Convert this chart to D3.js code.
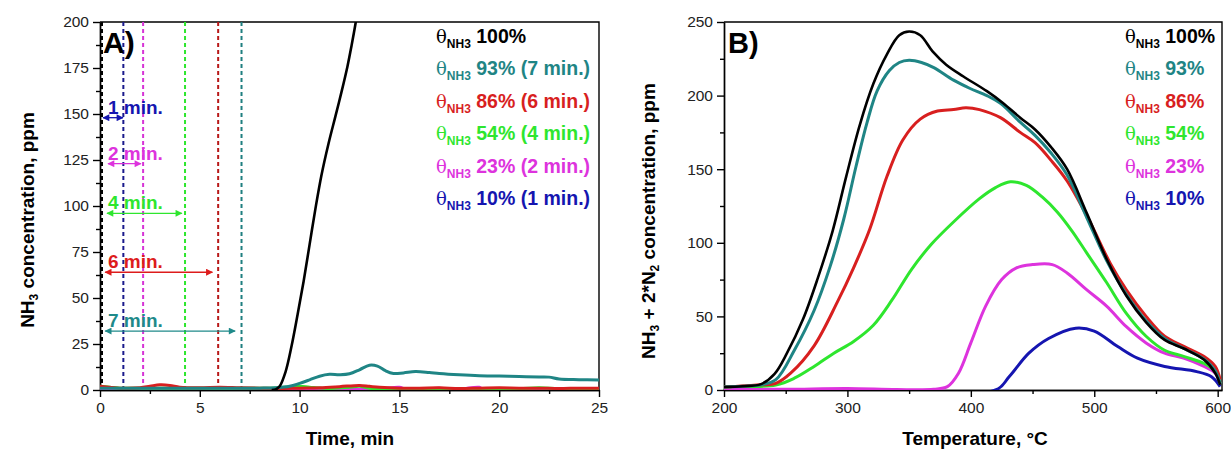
<!DOCTYPE html>
<html><head><meta charset="utf-8">
<script src="https://cdn.jsdelivr.net/npm/d3@7"></script>
<style>body{margin:0;background:#fff}svg{display:block}text{font-family:"Liberation Sans",Arial,sans-serif}</style>
</head><body>
<svg id="c" width="1231" height="450"></svg>
<script>
// ---------- Panel A data (time, min / NH3 ppm) ----------
const timeBlack = [[8.6,0],[8.8,0.3],[9.0,2],[9.3,10],[9.6,24],[9.9,41],[10.2,59],[10.5,79],[10.8,99],[11.1,117],[11.45,134],[11.8,149],[12.1,162],[12.4,176],[12.6,187],[12.8,199],[12.9,206]];
const timeTeal = [[0,1],[2,1],[4,1],[6,1],[8,1],[8.8,1.2],[9.5,2],[10,3.6],[10.5,5.5],[11,7.5],[11.5,8.5],[12,8.3],[12.5,8.8],[13,11],[13.5,13.5],[13.9,13],[14.3,10.5],[14.7,9],[15.2,9.3],[15.8,10],[16.5,9.5],[17,9],[18,8.3],[19,7.8],[20,7.6],[21,7.3],[22,7.1],[22.5,7],[23,6],[24,5.6],[25,5.4]];
const timeRed = [[0,2],[1,1],[2,1.2],[2.5,2],[3,2.8],[3.5,2.5],[4,1.5],[5,1.2],[6,1.5],[7,1.2],[8,1],[9,0.8],[10,1],[11,1.2],[12,1.8],[13,2.5],[13.5,2],[14,1.5],[15,1],[16,1],[17,1.2],[18,0.8],[19,1],[20,1.2],[21,1],[22,1],[23,0.8],[24,1],[25,1]];
const timeGreen = [[0,2],[0.5,1.5],[1,1],[3,1],[5,1],[7,1],[8.5,1],[10,2],[10.5,1.5],[11.5,0.8],[12.5,1.5],[13,2],[13.5,1],[15,0.7],[17,0.8],[19,0.6],[21,0.8],[22,1.2],[23,0.8],[25,0.6]];
const timeMagenta = [[0,0.5],[2,0.5],[4,0.4],[6,0.5],[8,0.4],[10,0.5],[12,0.4],[14,0.5],[15,1.5],[15.3,0.4],[17,1],[18,0.4],[19,1.5],[19.2,0.3],[21,0.4],[23,0.5],[25,0.4]];
const timeBlue = [[0,0.2],[5,0.1],[10,0.2],[15,0.1],[20,0.2],[25,0.1]];

const dottedTimes = [0.1, 1.17, 2.16, 4.26, 5.92, 7.09];
const dottedColors = ["#000000","#1a1a8c","#d633d6","#2ee62e","#b81818","#1f7f80"];

const annotLabels = ["1 min.","2 min.","4 min.","6 min.","7 min."];
const annotValue = [148, 123, 96, 64, 32];
const annotStart = [0.15, 0.4, 0.35, 0.26, 0.26];
const annotEnd = [1.15, 2.05, 4.1, 5.63, 6.77];
const annotColors = ["#1515b0","#dd33dd","#2ee62e","#dd1c1c","#1f8a8a"];

const legendA = ["100%","93% (7 min.)","86% (6 min.)","54% (4 min.)","23% (2 min.)","10% (1 min.)"];
const legendB = ["100%","93%","86%","54%","23%","10%"];
const seriesColors = ["#000000","#1f8585","#d81f1f","#2ee62e","#dd33dd","#1515b0"];

// ---------- Panel B data (temperature, °C / ppm) ----------
const tempBlack = [[200,2],[215,2.5],[230,4],[241,11],[251,25],[264,48],[276,76],[288,108],[299,145],[310,180],[321,208],[332,228],[342,241],[350,243.5],[359,241],[369,230],[380,221],[394,213],[413,203],[426,195],[440,185],[452,177],[465,165],[478,150],[494,120],[510,89],[526,64],[542,46],[557,34],[573,28],[589,20.5],[598,11.5],[602,3.5]];
const tempTeal = [[200,2],[215,2.5],[230,3.5],[242,7],[257,27],[273,54],[286,84],[297,116],[307,152],[316,182],[324,203],[334,217],[342,222.5],[350,224],[360,222.5],[370,219],[386,210.5],[399,205],[413,200],[424,194.7],[440,182],[452,173],[465,161],[478,146],[494,117],[510,88],[526,65],[542,47],[557,35],[573,28],[589,21],[598,13],[602,4]];
const tempRed = [[200,2],[207,2.3],[230,3.5],[242,4.5],[254,11.4],[273,30],[292,60],[305,83],[318,109],[332,145],[345,170],[359,184],[373,189.5],[386,190.5],[396,191.8],[407,190.5],[424,185],[440,175],[452,168],[465,156],[478,142],[496,115],[513,86],[526,68],[542,50],[557,36.5],[573,29.5],[589,22.7],[598,16],[602,7]];
const tempGreen = [[200,2],[207,2.3],[242,3.4],[257,8],[273,16],[289,25],[305,33],[321,44],[336,61],[352,82],[368,99],[387,115],[407,130],[420,137.5],[432,141.5],[445,139],[458,131],[470,121],[482,108],[494,93],[510,73],[526,52],[542,36.5],[557,27],[573,22.7],[589,18],[598,12.5],[602,4.5]];
const tempMagenta = [[200,0.5],[250,0.5],[300,1],[340,0.3],[370,0.5],[381,2.3],[390,11.4],[400,32],[412,57],[425,75],[437,83],[450,85.2],[466,85.2],[478,79.5],[494,68],[510,57],[526,43],[542,32],[557,25],[573,21.6],[589,16],[598,11.4],[602,4.5]];
const tempBlue = [[200,0],[420,0],[431,9],[447,25],[463,35],[485,42],[500,40],[519,29.5],[535,21.6],[557,16],[583,12.5],[595,9],[602,2.3]];

const ticksA_x = [0,5,10,15,20,25];
const ticksA_y = [0,25,50,75,100,125,150,175,200];
const ticksB_x = [200,300,400,500,600];
const ticksB_y = [0,50,100,150,200,250];

// ---------- drawing ----------
const svg = d3.select("#c");
svg.append("rect").attr("width",1231).attr("height",450).attr("fill","#fff");

const defs = svg.append("defs");
annotColors.forEach((c,i)=>{
  defs.append("marker").attr("id","ah"+i).attr("viewBox","0 0 10 10").attr("refX",9).attr("refY",5)
    .attr("markerWidth",8).attr("markerHeight",7).attr("markerUnits","userSpaceOnUse").attr("orient","auto-start-reverse")
    .append("path").attr("d","M0,0L10,5L0,10z").attr("fill",c);
});

function panel(opt){
  const g = svg.append("g");
  const x = d3.scaleLinear().domain(opt.xd).range(opt.xr);
  const y = d3.scaleLinear().domain(opt.yd).range([390,22]);
  const cid = "clip"+opt.id;
  defs.append("clipPath").attr("id",cid).append("rect")
    .attr("x",opt.xr[0]).attr("y",22).attr("width",opt.xr[1]-opt.xr[0]).attr("height",368);
  const xa = d3.axisBottom(x).tickValues(opt.xt).tickSize(7).tickPadding(5).tickSizeOuter(0);
  const ya = d3.axisLeft(y).tickValues(opt.yt).tickSize(7).tickPadding(4).tickSizeOuter(0);
  const xm = d3.axisBottom(x).tickValues(opt.xm).tickSize(4).tickFormat("").tickSizeOuter(0);
  const ym = d3.axisLeft(y).tickValues(opt.ym).tickSize(4).tickFormat("").tickSizeOuter(0);
  [[xm,"translate(0,390)"],[ym,`translate(${opt.xr[0]},0)`],[xa,"translate(0,390)"],[ya,`translate(${opt.xr[0]},0)`]].forEach(([a,t])=>{
    const ag = g.append("g").attr("transform",t).call(a);
    ag.selectAll("path,line").attr("stroke","#000").attr("stroke-width",1.4);
    ag.selectAll("text").attr("font-size",15.5).attr("fill","#222").attr("font-family","Liberation Sans, Arial, sans-serif");
  });
  g.append("path").attr("d",`M${opt.xr[0]},22H${opt.xr[1]}V390`).attr("fill","none").attr("stroke","#000").attr("stroke-width",1.4);
  const dg = g.append("g").attr("clip-path",`url(#${cid})`);
  const line = d3.line().x(d=>x(d[0])).y(d=>y(d[1])).curve(d3.curveCatmullRom.alpha(0.5));
  return {g,dg,x,y,line};
}

// Panel A
const A = panel({id:"A", xd:[0,25], xr:[100,599], yd:[0,200], xt:ticksA_x, yt:ticksA_y,
  xm:d3.range(2.5,25,5), ym:d3.range(12.5,200,25)});
dottedTimes.forEach((t,i)=>{
  A.dg.append("line").attr("x1",A.x(t)).attr("x2",A.x(t)).attr("y1",A.y(0)).attr("y2",A.y(200))
    .attr("stroke",dottedColors[i]).attr("stroke-width",2).attr("stroke-dasharray","4,3");
});
const timeSeries = [timeBlue,timeMagenta,timeGreen,timeRed,timeTeal,timeBlack];
const drawColors = [seriesColors[5],seriesColors[4],seriesColors[3],seriesColors[2],seriesColors[1],seriesColors[0]];
timeSeries.forEach((s,i)=>{
  A.dg.append("path").datum(s).attr("d",A.line).attr("fill","none").attr("stroke",drawColors[i])
    .attr("stroke-width",i===5?2.6:3).attr("stroke-linejoin","round");
});
annotLabels.forEach((lab,i)=>{
  const yy = A.y(annotValue[i]);
  A.g.append("line").attr("x1",A.x(annotStart[i])).attr("x2",A.x(annotEnd[i])).attr("y1",yy).attr("y2",yy)
    .attr("stroke",annotColors[i]).attr("stroke-width",1.3)
    .attr("marker-start",`url(#ah${i})`).attr("marker-end",`url(#ah${i})`);
  A.g.append("text").attr("x",108).attr("y",yy-4).attr("font-size",19).attr("font-weight","bold")
    .attr("fill",annotColors[i]).text(lab);
});
A.g.append("text").attr("x",103).attr("y",53).attr("font-size",30).attr("font-weight","bold").text("A)");

// Panel B
const B = panel({id:"B", xd:[200,603.5], xr:[724,1222], yd:[0,250], xt:ticksB_x, yt:ticksB_y,
  xm:d3.range(250,600,100), ym:d3.range(25,250,50)});
const tempSeries = [tempBlue,tempMagenta,tempGreen,tempRed,tempTeal,tempBlack];
tempSeries.forEach((s,i)=>{
  B.dg.append("path").datum(s).attr("d",B.line).attr("fill","none").attr("stroke",drawColors[i])
    .attr("stroke-width",i===5?2.6:3).attr("stroke-linejoin","round");
});
B.g.append("text").attr("x",728).attr("y",53).attr("font-size",29).attr("font-weight","bold").text("B)");

function legend(x0, items){
  items.forEach((t,i)=>{
    const tx = svg.append("text").attr("x",x0).attr("y",43+i*32.4).attr("fill",seriesColors[i]).attr("font-size",19.5);
    tx.append("tspan").text("θ").attr("font-family","DejaVu Serif, serif").attr("font-size",18);
    tx.append("tspan").text("NH3").attr("font-size",12).attr("font-weight","bold").attr("dy",5);
    tx.append("tspan").text(" "+t).attr("font-weight","bold").attr("dy",-5);
  });
}
legend(436, legendA);
legend(1125, legendB);

svg.append("text").attr("x",350).attr("y",445).attr("text-anchor","middle").attr("font-size",19).attr("font-weight","bold").text("Time, min");
svg.append("text").attr("x",975).attr("y",445).attr("text-anchor","middle").attr("font-size",19).attr("font-weight","bold").text("Temperature, °C");
const yt1 = svg.append("text").attr("transform","translate(34,220) rotate(-90)").attr("text-anchor","middle").attr("font-size",19).attr("font-weight","bold");
yt1.append("tspan").text("NH");
yt1.append("tspan").text("3").attr("font-size",12).attr("dy",4);
yt1.append("tspan").text(" concentration, ppm").attr("dy",-4);
const yt2 = svg.append("text").attr("transform","translate(655,221) rotate(-90)").attr("text-anchor","middle").attr("font-size",19).attr("font-weight","bold");
yt2.append("tspan").text("NH");
yt2.append("tspan").text("3").attr("font-size",12).attr("dy",4);
yt2.append("tspan").text(" + 2*N").attr("dy",-4);
yt2.append("tspan").text("2").attr("font-size",12).attr("dy",4);
yt2.append("tspan").text(" concentration, ppm").attr("dy",-4);
</script>
</body></html>
